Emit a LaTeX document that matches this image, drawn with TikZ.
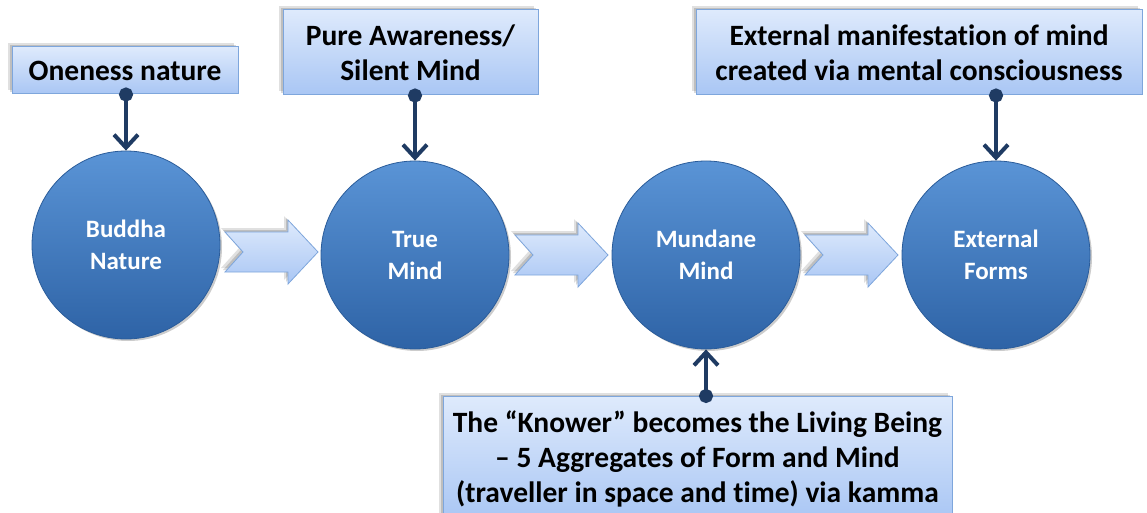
\documentclass[tikz,border=0pt]{standalone}
\usepackage{fontspec}
\setmainfont[Ligatures=NoCommon]{Carlito}
\usetikzlibrary{arrows.meta,shadows}
\definecolor{navy}{HTML}{1F3B63}
\definecolor{boxtop}{HTML}{DEEAFC}
\definecolor{boxbot}{HTML}{A9C6F4}
\definecolor{boxline}{HTML}{7EA6DC}
\definecolor{cirtop}{HTML}{5A94D6}
\definecolor{cirbot}{HTML}{2E63A6}
\definecolor{cirline}{HTML}{2A5C9A}
\tikzset{
  softshadow/.style={drop shadow={shadow xshift=-4pt,shadow yshift=4pt,opacity=.12,fill=black},
                     drop shadow={shadow xshift=-2pt,shadow yshift=2pt,opacity=.15,fill=black}},
  infobox/.style={draw=boxline, line width=1pt, top color=boxtop, bottom color=boxbot,
    font=\bfseries\fontsize{29.5}{35}\selectfont, align=center, inner sep=0pt, softshadow},
  orb/.style={circle, draw=cirline, line width=0.8pt, top color=cirtop, bottom color=cirbot,
    minimum size=188pt, text=white, font=\bfseries\fontsize{25}{32}\selectfont, align=center, inner sep=0pt,
    drop shadow={shadow xshift=2pt,shadow yshift=-2pt,opacity=.2,fill=black}},
  link/.style={navy, line width=4pt, {Circle[length=14pt,width=14pt]}-{Straight Barb[length=13pt,width=24pt]}},
  blockarrow/.pic={
    \path[draw=boxline, line width=0.8pt, top color=boxtop, bottom color=boxbot, softshadow]
      (0,-20) -- (63,-20) -- (63,-32) -- (93,0) -- (63,32) -- (63,20) -- (0,20) -- (18,0) -- cycle;
  }
}
\begin{document}
\begin{tikzpicture}[x=1pt,y=-1pt]
\useasboundingbox (0,0) rectangle (1147,513);
\fill[white] (0,0) rectangle (1147,513);

\pic at (225,252) {blockarrow};
\pic at (515,255) {blockarrow};
\pic at (805,255) {blockarrow};

\node[orb] (c1) at (126,245) {Buddha\\Nature};
\node[orb] (c2) at (415,255) {True\\Mind};
\node[orb] (c3) at (706,255) {Mundane\\Mind};
\node[orb] (c4) at (996,255) {External\\Forms};

\node[infobox, minimum width=226pt, minimum height=47pt] (b1) at (125,70.5) {Oneness nature};
\node[infobox, minimum width=255pt, minimum height=85pt] (b2) at (410.5,52.5) {Pure Awareness/\\Silent Mind};
\node[infobox, minimum width=446pt, minimum height=85pt] (b3) at (919,52.5) {External manifestation of mind\\created via mental consciousness};
\node[infobox, minimum width=509pt, minimum height=124pt, anchor=north] (b4) at (697.5,396)
  {The “Knower” becomes the Living Being\\– 5 Aggregates of Form and Mind\\(traveller in space and time) via kamma};

\draw[link] ([yshift=7pt]b1.south -| c1) -- (c1.north);
\draw[link] ([yshift=7pt]b2.south -| c2) -- (c2.north);
\draw[link] ([yshift=7pt]b3.south -| c4) -- (c4.north);
\draw[link] ([yshift=-7pt]b4.north -| c3) -- (c3.south);
\end{tikzpicture}
\end{document}
